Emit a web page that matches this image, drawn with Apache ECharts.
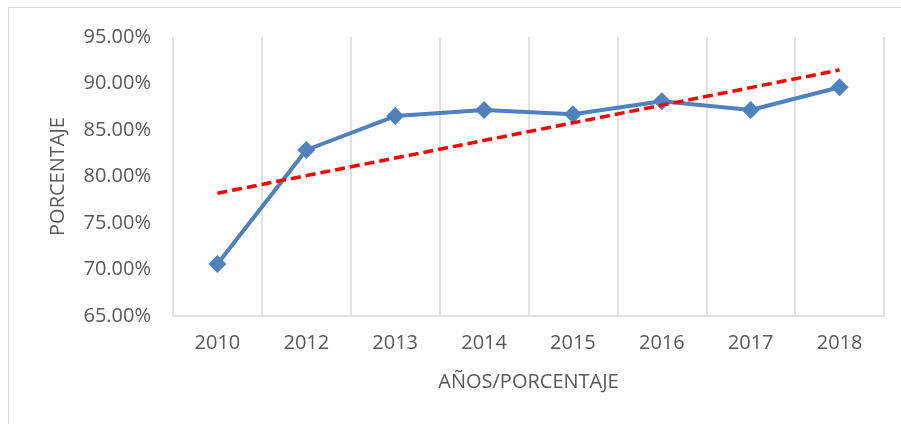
<!DOCTYPE html>
<html>
<head>
<meta charset="utf-8">
<script src="https://cdn.jsdelivr.net/npm/echarts@6/dist/echarts.min.js"></script>
<style>
html,body{margin:0;padding:0;background:#fff;}
#chart{width:901px;height:424px;}
</style>
</head>
<body>
<div id="chart"></div>
<script>
var categories = ['2010', '2012', '2013', '2014', '2015', '2016', '2017', '2018'];
var porcentaje = [70.6, 82.85, 86.5, 87.15, 86.7, 88.1, 87.15, 89.6];
var tendencia = [78.2, null, null, null, null, null, null, 91.45];
var yTicks = { min: 65, max: 95, interval: 5 };
var xAxisTitle = 'AÑOS/PORCENTAJE';
var yAxisTitle = 'PORCENTAJE';

var font = '"Open Sans", "Liberation Sans", sans-serif';
var chart = echarts.init(document.getElementById('chart'), null, { renderer: 'canvas' });
chart.setOption({
  animation: false,
  backgroundColor: '#fff',
  graphic: [{
    type: 'rect', silent: true, z: -1,
    shape: { x: 8.5, y: 7.5, width: 900, height: 430 },
    style: { fill: 'none', stroke: '#d9d9d9', lineWidth: 1 }
  }],
  grid: { left: 173, right: 17, top: 37, bottom: 108, containLabel: false },
  xAxis: {
    type: 'category',
    data: categories,
    boundaryGap: true,
    name: xAxisTitle,
    nameLocation: 'middle',
    nameGap: 56,
    nameTextStyle: { color: '#595959', fontSize: 20, fontFamily: font },
    axisLine: { show: true, lineStyle: { color: '#d9d9d9', width: 1.5 } },
    axisTick: { show: false },
    axisLabel: { color: '#595959', fontSize: 20, fontFamily: font, margin: 17 },
    splitLine: { show: true, showMinLine: true, showMaxLine: true, lineStyle: { color: '#d9d9d9', width: 1.5 } }
  },
  yAxis: {
    type: 'value',
    min: yTicks.min, max: yTicks.max, interval: yTicks.interval,
    name: yAxisTitle,
    nameLocation: 'middle',
    nameGap: 105,
    nameRotate: 90,
    nameTextStyle: { color: '#595959', fontSize: 20, fontFamily: font },
    axisLine: { show: false },
    axisTick: { show: false },
    splitLine: { show: false },
    axisLabel: {
      color: '#595959', fontSize: 20, fontFamily: font, margin: 22,
      formatter: function (v) { return v.toFixed(2) + '%'; }
    }
  },
  series: [{
    name: 'Porcentaje',
    type: 'line',
    data: porcentaje,
    symbol: 'diamond',
    symbolSize: 18,
    lineStyle: { color: '#4F81BD', width: 4 },
    itemStyle: { color: '#4F81BD' },
    z: 3
  }, {
    name: 'Tendencia',
    type: 'line',
    data: tendencia,
    connectNulls: true,
    symbol: 'none',
    lineStyle: { color: '#FF0000', width: 3.5, type: [10, 5] },
    z: 4
  }]
});
</script>
</body>
</html>
